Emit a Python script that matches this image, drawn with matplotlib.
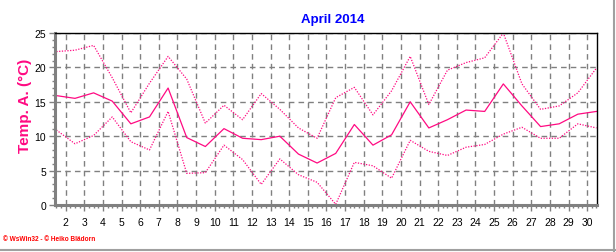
import numpy as np
import matplotlib
matplotlib.use("Agg")
import matplotlib.pyplot as plt
from matplotlib.ticker import MultipleLocator
from matplotlib.lines import Line2D

# Tageswerte April 2014 (Max / Mittel / Min)
tage = np.arange(1, 31)
temp_max = [22.3, 22.5, 23.2, 18.5, 13.4, 17.7, 21.6, 18.3, 11.9, 14.5,
            12.4, 16.2, 13.9, 11.2, 9.7, 15.6, 17.1, 13.1, 16.6, 21.6,
            14.6, 19.6, 20.7, 21.4, 25.0, 17.6, 13.9, 14.4, 16.3, 19.9]
temp_mittel = [15.9, 15.5, 16.3, 15.1, 11.8, 12.8, 17.0, 9.8, 8.5, 11.1,
               9.7, 9.5, 10.0, 7.4, 6.1, 7.5, 11.7, 8.7, 10.2, 15.0,
               11.2, 12.4, 13.8, 13.6, 17.6, 14.4, 11.4, 11.8, 13.2, 13.6]
temp_min = [10.9, 8.9, 10.1, 12.8, 9.2, 8.0, 13.6, 4.6, 4.7, 8.7,
            6.6, 3.0, 6.7, 4.4, 3.3, 0.1, 6.2, 5.7, 3.9, 9.4,
            7.8, 7.2, 8.4, 8.8, 10.3, 11.3, 9.7, 9.7, 11.8, 11.2]
x_ticks = list(range(2, 31))

farbe = "#FF0A82"
grau = "#808080"
plt.rcParams['font.family'] = ['Liberation Sans', 'DejaVu Sans']

fig = plt.figure(figsize=(6.16, 2.53), dpi=100)
ax = fig.add_axes([54.5/616, 1-206/253, (597-54.5)/616, (206-34)/253])

x = tage + 0.5
ax.plot(x, temp_max, color=farbe, lw=0.9, ls=(0, (1, 1.2)))
ax.plot(x, temp_mittel, color=farbe, lw=0.9)
ax.plot(x, temp_min, color=farbe, lw=0.9, ls=(0, (1, 1.2)))

ax.set_xlim(1.4, 30.53)
ax.set_ylim(0, 25)
ax.set_xticks(x_ticks)
ax.xaxis.set_minor_locator(MultipleLocator(0.25))
ax.set_yticks(range(0, 26, 5))
ax.yaxis.set_minor_locator(MultipleLocator(1))
ax.grid(True, which='major', color=grau, ls=(0, (4, 3)), lw=1)
ax.set_axisbelow(True)

for s in ['left', 'bottom']:
    ax.spines[s].set_color(grau)
    ax.spines[s].set_linewidth(2.2)
for s in ['top', 'right']:
    ax.spines[s].set_color('black')
    ax.spines[s].set_linewidth(1)

ax.tick_params(which='major', length=4, width=1, color=grau, labelsize=7.5, pad=2)
ax.tick_params(which='minor', length=2, width=1, color=grau)
ax.tick_params(axis='x', pad=5)

ax.set_title("April 2014", color='#0000FF', fontsize=9.5, fontweight='bold', pad=8, x=0.5135)
ax.set_ylabel("Temp. A. (°C)", color=farbe, fontsize=11, fontweight='bold')
ax.yaxis.set_label_coords(-0.0415, 0.58)

fig.text(3/616, 1-240/253, "© WsWin32 - © Heiko Blädorn", color='red', fontsize=4.7,
         fontweight='bold', va='center')

# grauer Rahmen rechts und unten
fig.add_artist(Line2D([614/616, 614/616], [0, 1], color='#A0A0A0', lw=1.5))
fig.add_artist(Line2D([0, 1], [2/253, 2/253], color='#A0A0A0', lw=1.5))

fig.savefig("out.png", dpi=100)
